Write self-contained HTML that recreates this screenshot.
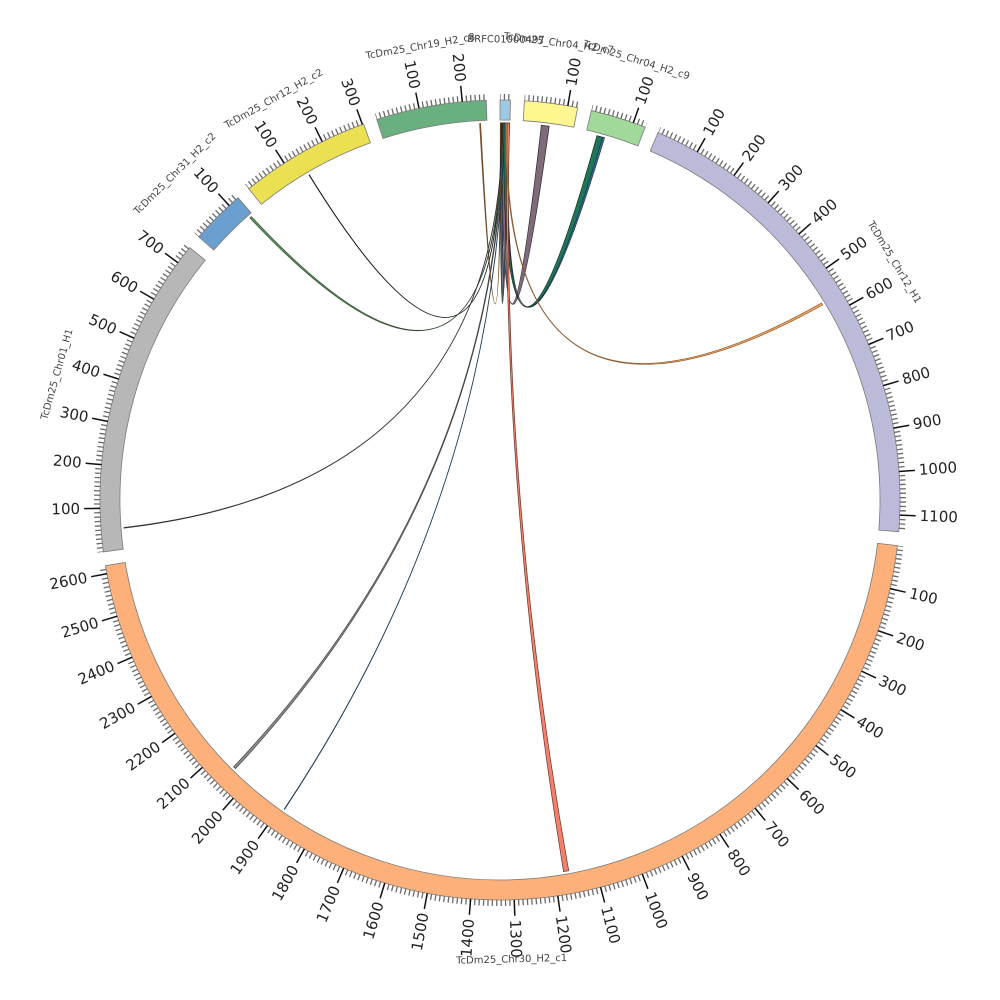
<!DOCTYPE html>
<html><head><meta charset="utf-8"><style>
html,body{margin:0;padding:0;background:#fff;}
svg{display:block;}
text{dominant-baseline:central;}
.tk{font-family:"DejaVu Sans","Liberation Sans",sans-serif;font-size:15px;fill:#222;}
.r{text-anchor:start;}
.l{text-anchor:end;}
.nm{font-family:"DejaVu Sans","Liberation Sans",sans-serif;font-size:10px;fill:#444;text-anchor:middle;}
.mi{fill:none;stroke:#6a6a6a;stroke-width:6;stroke-dasharray:1.3 3.1045;stroke-dashoffset:0.65;}
.ma{fill:none;stroke:#111;stroke-width:16;stroke-dasharray:1.5 43.0915;stroke-dashoffset:23.0455;}
.sg{stroke:#7a7a7a;stroke-width:0.8;}
</style></head><body>
<svg width="1000" height="1000" viewBox="0 0 1000 1000" xmlns="http://www.w3.org/2000/svg">
<rect width="1000" height="1000" fill="#fff"/>

<!-- links -->
<g stroke-width="0.7">
<path d="M500.33,123.00 L503.95,123.02 Q500,484 505.92,123.05 L509.54,123.12 Q500,484 500.33,123.00 Z" fill="#4b5575" stroke="#222"/>
<path d="M502.30,123.01 L506.25,123.05 Q500,484 541.37,125.28 L549.21,126.23 Q500,484 502.30,123.01 Z" fill="#7f6a7b" stroke="#2a2a2a"/>
<path d="M503.95,123.02 L507.90,123.08 Q500,484 596.94,135.67 L603.28,137.42 Q500,484 503.95,123.02 Z" fill="#1f7657" stroke="#1a2a22"/>
<path d="M507.57,123.08 L508.55,123.10 Q500,484 602.65,137.24 L604.55,137.79 Q500,484 507.57,123.08 Z" fill="#3b6fa3" stroke="#1e2e44"/>
<path d="M507.24,123.07 L509.54,123.12 Q500,484 568.70,870.69 L563.52,871.61 Q500,484 507.24,123.07 Z" fill="#f4806c" stroke="#6b3328"/>
<path d="M505.92,123.05 L506.91,123.06 Q500,484 821.45,303.02 L822.63,304.99 Q500,484 505.92,123.05 Z" fill="#f9a862" stroke="#8a5a30"/>
<path d="M235.52,768.67 L233.65,766.81 Q500,484 502.96,123.01 L503.95,123.02 Q500,484 235.52,768.67 Z" fill="#8e8e8e" stroke="#444"/>
<path d="M479.61,123.55 L480.60,123.50 Q500,484 500.33,123.00 L500.99,123.00 Q500,484 479.61,123.55 Z" fill="#a0703a" stroke="#6b4420"/>
<path d="M308.94,175.00 L309.34,174.77 Q500,484 501.32,123.00 L501.64,123.00 Q500,484 308.94,175.00 Z" fill="#333" stroke="#111"/>
<path d="M249.89,217.91 L251.37,216.56 Q500,484 501.97,123.01 L502.63,123.01 Q500,484 249.89,217.91 Z" fill="#5f9d5f" stroke="#2f4a2f"/>
<path d="M124.05,528.14 L124.00,527.48 Q500,484 502.63,123.01 L502.96,123.01 Q500,484 124.05,528.14 Z" fill="#d6cf6a" stroke="#333"/>
<path d="M284.57,809.39 L284.19,809.12 Q500,484 503.95,123.02 L504.28,123.02 Q500,484 284.57,809.39 Z" fill="#2e5575" stroke="#1e3a50"/>
</g>

<!-- segments -->
<g transform="rotate(0 500 500)">
<path class="sg" fill="#9ecae1" d="M500,100 A400,400 0 0 1 510.49,100.14 L509.97,120.13 A380,380 0 0 0 500,120 Z"/>
<path class="mi" d="M500,97 A403,403 0 0 1 510.57,97.14"/>
</g>
<g transform="rotate(3.503 500 500)">
<path class="sg" fill="#fff68f" d="M500,100 A400,400 0 0 1 553.61,103.61 L550.93,123.43 A380,380 0 0 0 500,120 Z"/>
<path class="mi" d="M500,97 A403,403 0 0 1 554.01,100.63"/>
<path class="ma" d="M522.28,92.61 A408,408 0 0 1 554.68,95.68"/>
</g>
<g transform="rotate(13.205 500 500)">
<path class="sg" fill="#a1d99b" d="M500,100 A400,400 0 0 1 556.21,103.97 L553.40,123.77 A380,380 0 0 0 500,120 Z"/>
<path class="mi" d="M500,97 A403,403 0 0 1 556.63,101.00"/>
<path class="ma" d="M522.28,92.61 A408,408 0 0 1 557.33,96.05"/>
</g>
<g transform="rotate(23.283 500 500)">
<path class="sg" fill="#bcbad9" d="M500,100 A400,400 0 0 1 878.80,371.50 L859.86,377.93 A380,380 0 0 0 500,120 Z"/>
<path class="mi" d="M500,97 A403,403 0 0 1 881.64,370.54"/>
<path class="ma" d="M522.28,92.61 A408,408 0 0 1 886.37,368.93"/>
</g>
<g transform="rotate(96.545 500 500)">
<path class="sg" fill="#fdb07a" d="M500,100 A400,400 0 0 1 610.26,884.50 L604.74,865.28 A380,380 0 0 0 500,120 Z"/>
<path class="mi" d="M500,97 A403,403 0 0 1 611.08,887.39"/>
<path class="ma" d="M522.28,92.61 A408,408 0 0 1 612.46,892.19"/>
</g>
<g transform="rotate(262.545 500 500)">
<path class="sg" fill="#b7b7b7" d="M500,100 A400,400 0 0 1 790.58,225.11 L776.05,238.85 A380,380 0 0 0 500,120 Z"/>
<path class="mi" d="M500,97 A403,403 0 0 1 792.76,223.05"/>
<path class="ma" d="M522.28,92.61 A408,408 0 0 1 796.39,219.61"/>
</g>
<g transform="rotate(311.134 500 500)">
<path class="sg" fill="#6b9fcf" d="M500,100 A400,400 0 0 1 555.34,103.85 L552.58,123.65 A380,380 0 0 0 500,120 Z"/>
<path class="mi" d="M500,97 A403,403 0 0 1 555.76,100.88"/>
<path class="ma" d="M522.28,92.61 A408,408 0 0 1 556.45,95.92"/>
</g>
<g transform="rotate(321.087 500 500)">
<path class="sg" fill="#ebe052" d="M500,100 A400,400 0 0 1 630.05,121.73 L623.55,140.65 A380,380 0 0 0 500,120 Z"/>
<path class="mi" d="M500,97 A403,403 0 0 1 631.03,118.90"/>
<path class="ma" d="M522.28,92.61 A408,408 0 0 1 632.66,114.17"/>
</g>
<g transform="rotate(342.061 500 500)">
<path class="sg" fill="#6aaf7f" d="M500,100 A400,400 0 0 1 610.04,115.43 L604.54,134.66 A380,380 0 0 0 500,120 Z"/>
<path class="mi" d="M500,97 A403,403 0 0 1 610.87,112.55"/>
<path class="ma" d="M522.28,92.61 A408,408 0 0 1 612.24,107.74"/>
</g>

<!-- tick labels -->
<g class="tk">
<text class="r" transform="rotate(9.765 500 500) translate(500 80) rotate(-90)">100</text>
<text class="r" transform="rotate(19.467 500 500) translate(500 80) rotate(-90)">100</text>

<text class="r" transform="rotate(29.545 500 500) translate(500 80) rotate(-90)">100</text>
<text class="r" transform="rotate(35.807 500 500) translate(500 80) rotate(-90)">200</text>
<text class="r" transform="rotate(42.069 500 500) translate(500 80) rotate(-90)">300</text>
<text class="r" transform="rotate(48.331 500 500) translate(500 80) rotate(-90)">400</text>
<text class="r" transform="rotate(54.593 500 500) translate(500 80) rotate(-90)">500</text>
<text class="r" transform="rotate(60.855 500 500) translate(500 80) rotate(-90)">600</text>
<text class="r" transform="rotate(67.117 500 500) translate(500 80) rotate(-90)">700</text>
<text class="r" transform="rotate(73.379 500 500) translate(500 80) rotate(-90)">800</text>
<text class="r" transform="rotate(79.641 500 500) translate(500 80) rotate(-90)">900</text>
<text class="r" transform="rotate(85.903 500 500) translate(500 80) rotate(-90)">1000</text>
<text class="r" transform="rotate(92.165 500 500) translate(500 80) rotate(-90)">1100</text>

<text class="r" transform="rotate(102.807 500 500) translate(500 80) rotate(-90)">100</text>
<text class="r" transform="rotate(109.069 500 500) translate(500 80) rotate(-90)">200</text>
<text class="r" transform="rotate(115.331 500 500) translate(500 80) rotate(-90)">300</text>
<text class="r" transform="rotate(121.593 500 500) translate(500 80) rotate(-90)">400</text>
<text class="r" transform="rotate(127.855 500 500) translate(500 80) rotate(-90)">500</text>
<text class="r" transform="rotate(134.117 500 500) translate(500 80) rotate(-90)">600</text>
<text class="r" transform="rotate(140.379 500 500) translate(500 80) rotate(-90)">700</text>
<text class="r" transform="rotate(146.641 500 500) translate(500 80) rotate(-90)">800</text>
<text class="r" transform="rotate(152.903 500 500) translate(500 80) rotate(-90)">900</text>
<text class="r" transform="rotate(159.165 500 500) translate(500 80) rotate(-90)">1000</text>
<text class="r" transform="rotate(165.427 500 500) translate(500 80) rotate(-90)">1100</text>
<text class="r" transform="rotate(171.689 500 500) translate(500 80) rotate(-90)">1200</text>
<text class="r" transform="rotate(177.951 500 500) translate(500 80) rotate(-90)">1300</text>
<text class="l" transform="rotate(184.213 500 500) translate(500 80) rotate(90)">1400</text>
<text class="l" transform="rotate(190.475 500 500) translate(500 80) rotate(90)">1500</text>
<text class="l" transform="rotate(196.737 500 500) translate(500 80) rotate(90)">1600</text>
<text class="l" transform="rotate(202.999 500 500) translate(500 80) rotate(90)">1700</text>
<text class="l" transform="rotate(209.261 500 500) translate(500 80) rotate(90)">1800</text>
<text class="l" transform="rotate(215.523 500 500) translate(500 80) rotate(90)">1900</text>
<text class="l" transform="rotate(221.785 500 500) translate(500 80) rotate(90)">2000</text>
<text class="l" transform="rotate(228.047 500 500) translate(500 80) rotate(90)">2100</text>
<text class="l" transform="rotate(234.309 500 500) translate(500 80) rotate(90)">2200</text>
<text class="l" transform="rotate(240.571 500 500) translate(500 80) rotate(90)">2300</text>
<text class="l" transform="rotate(246.833 500 500) translate(500 80) rotate(90)">2400</text>
<text class="l" transform="rotate(253.095 500 500) translate(500 80) rotate(90)">2500</text>
<text class="l" transform="rotate(259.357 500 500) translate(500 80) rotate(90)">2600</text>

<text class="l" transform="rotate(268.807 500 500) translate(500 80) rotate(90)">100</text>
<text class="l" transform="rotate(275.069 500 500) translate(500 80) rotate(90)">200</text>
<text class="l" transform="rotate(281.331 500 500) translate(500 80) rotate(90)">300</text>
<text class="l" transform="rotate(287.593 500 500) translate(500 80) rotate(90)">400</text>
<text class="l" transform="rotate(293.855 500 500) translate(500 80) rotate(90)">500</text>
<text class="l" transform="rotate(300.117 500 500) translate(500 80) rotate(90)">600</text>
<text class="l" transform="rotate(306.379 500 500) translate(500 80) rotate(90)">700</text>

<text class="l" transform="rotate(317.396 500 500) translate(500 80) rotate(90)">100</text>

<text class="l" transform="rotate(327.349 500 500) translate(500 80) rotate(90)">100</text>
<text class="l" transform="rotate(333.611 500 500) translate(500 80) rotate(90)">200</text>
<text class="l" transform="rotate(339.873 500 500) translate(500 80) rotate(90)">300</text>

<text class="l" transform="rotate(348.323 500 500) translate(500 80) rotate(90)">100</text>
<text class="l" transform="rotate(354.585 500 500) translate(500 80) rotate(90)">200</text>
</g>

<!-- segment names -->
<g>
<text class="nm" transform="rotate(0.751 500 500) translate(500 40)">BRFC01000497</text>
<text class="nm" transform="rotate(7.354 500 500) translate(500 40)">TcDm25_Chr04_H2_c7</text>
<text class="nm" transform="rotate(17.244 500 500) translate(500 40)">TcDm25_Chr04_H2_c9</text>
<text class="nm" transform="rotate(58.914 500 500) translate(500 40)">TcDm25_Chr12_H1</text>
<text class="nm" transform="rotate(178.545 500 500) translate(500 40) rotate(180)">TcDm25_Chr30_H2_c1</text>
<text class="nm" transform="rotate(285.84 500 500) translate(500 40)">TcDm25_Chr01_H1</text>
<text class="nm" transform="rotate(315.11 500 500) translate(500 40)">TcDm25_Chr31_H2_c2</text>
<text class="nm" transform="rotate(330.574 500 500) translate(500 40)">TcDm25_Chr12_H2_c2</text>
<text class="nm" transform="rotate(350.045 500 500) translate(500 40)">TcDm25_Chr19_H2_c8</text>
</g>
</svg>
</body></html>
